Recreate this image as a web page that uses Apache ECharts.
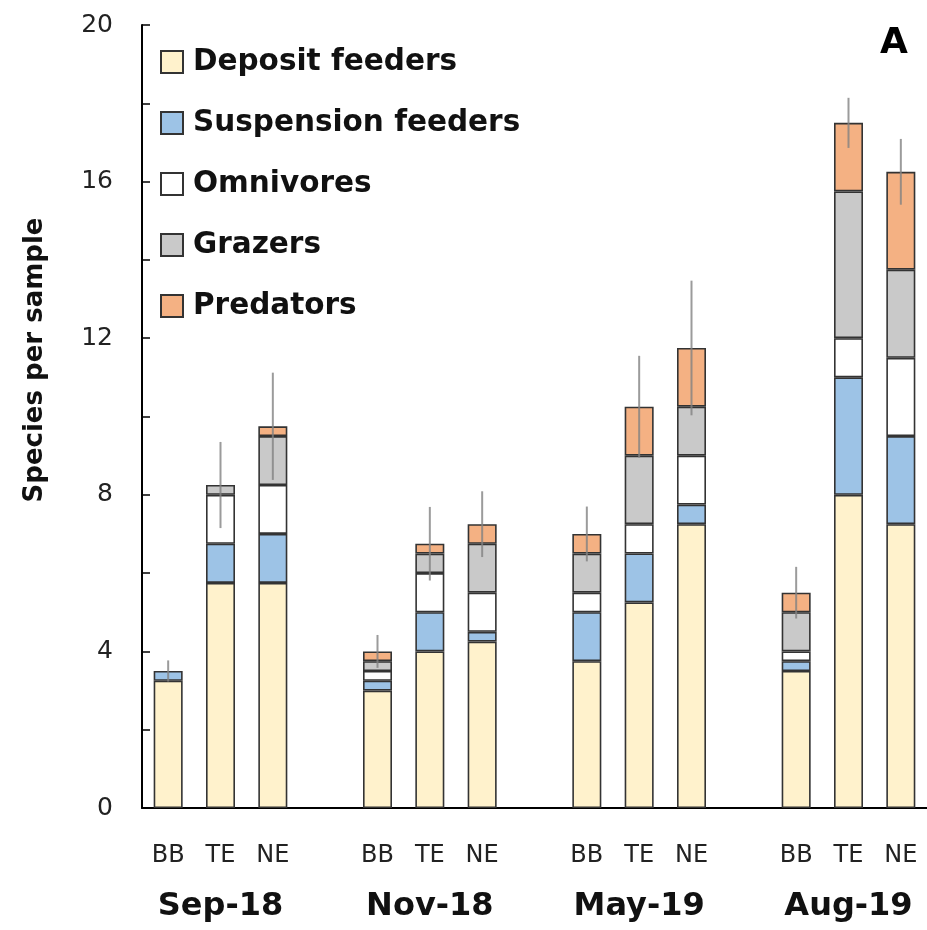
<!DOCTYPE html>
<html>
<head>
<meta charset="utf-8">
<script src="https://cdn.jsdelivr.net/npm/echarts@6/dist/echarts.min.js"></script>
<style>
  html, body { margin: 0; padding: 0; background: #fff; }
  #chart { width: 927px; height: 930px; }
</style>
</head>
<body>
<div id="chart"></div>
<script>
// Sampling dates and sites (sites repeat within each date group)
const months = ['Sep-18', 'Nov-18', 'May-19', 'Aug-19'];
const sites = ['BB', 'TE', 'NE'];

// Mean species per sample by feeding guild, order: Sep BB,TE,NE | Nov | May | Aug
const depositFeeders    = [3.25, 5.75, 5.75, 3.00, 4.00, 4.25, 3.75, 5.25, 7.25, 3.50, 8.00, 7.25];
const suspensionFeeders = [0.25, 1.00, 1.25, 0.25, 1.00, 0.25, 1.25, 1.25, 0.50, 0.25, 3.00, 2.25];
const omnivores         = [0.00, 1.25, 1.25, 0.25, 1.00, 1.00, 0.50, 0.75, 1.25, 0.25, 1.00, 2.00];
const grazers           = [0.00, 0.25, 1.25, 0.25, 0.50, 1.25, 1.00, 1.75, 1.25, 1.00, 3.75, 2.25];
const predators         = [0.00, 0.00, 0.25, 0.25, 0.25, 0.50, 0.50, 1.25, 1.50, 0.50, 1.75, 2.50];
// Standard error of total species per sample
const stdErr            = [0.27, 1.10, 1.37, 0.42, 0.94, 0.84, 0.70, 1.30, 1.72, 0.66, 0.64, 0.84];

// Category slots: three sites per date, one empty slot between dates
const slotIndex = [];
const categories = [];
const groupLabels = [];
months.forEach((m, gi) => {
  sites.forEach((s, si) => {
    slotIndex.push(categories.length);
    categories.push(s);
    groupLabels.push(si === 1 ? m : '');
  });
  if (gi < months.length - 1) { categories.push(' '); groupLabels.push(''); }
});

function toSlots(values) {
  const out = categories.map(() => '-');
  values.forEach((v, i) => { out[slotIndex[i]] = v === 0 ? '-' : v; });
  return out;
}

const guilds = [
  { name: 'Deposit feeders',    values: depositFeeders,    color: '#FFF2CC' },
  { name: 'Suspension feeders', values: suspensionFeeders, color: '#9DC3E6' },
  { name: 'Omnivores',          values: omnivores,         color: '#FFFFFF' },
  { name: 'Grazers',            values: grazers,           color: '#C9C9C9' },
  { name: 'Predators',          values: predators,         color: '#F4B183' }
];

const totals = depositFeeders.map((_, i) => guilds.reduce((s, g) => s + g.values[i], 0));
const errData = totals.map((t, i) => [slotIndex[i], t - stdErr[i], t + stdErr[i]]);

const FONT = '"DejaVu Sans", sans-serif';

const barSeries = guilds.map(g => ({
  name: g.name,
  type: 'bar',
  stack: 'total',
  xAxisIndex: 0,
  barWidth: 29,
  data: toSlots(g.values),
  itemStyle: { color: g.color, borderColor: '#333333', borderWidth: 1.6 },
  emphasis: { disabled: true }
}));

const errorSeries = {
  name: 'SE',
  type: 'custom',
  xAxisIndex: 0,
  z: 10,
  data: errData,
  encode: { x: 0, y: [1, 2] },
  renderItem: function (params, api) {
    const p1 = api.coord([api.value(0), api.value(1)]);
    const p2 = api.coord([api.value(0), api.value(2)]);
    return {
      type: 'line',
      shape: { x1: p1[0], y1: p1[1], x2: p2[0], y2: p2[1] },
      style: { stroke: 'rgba(130,130,130,0.8)', lineWidth: 2 }
    };
  }
};

const chart = echarts.init(document.getElementById('chart'), null, { renderer: 'canvas' });
chart.setOption({
  animation: false,
  backgroundColor: '#ffffff',
  textStyle: { fontFamily: FONT },
  title: {
    text: 'A',
    left: 880,
    top: 26,
    padding: 0,
    textStyle: { fontFamily: FONT, fontSize: 36, fontWeight: 'bold', color: '#000' }
  },
  graphic: [{
    type: 'text',
    x: 35,
    y: 360,
    rotation: Math.PI / 2,
    style: {
      text: 'Species per sample',
      fontFamily: FONT,
      fontSize: 26,
      fontWeight: 'bold',
      fill: '#111',
      align: 'center',
      verticalAlign: 'middle'
    }
  }],
  legend: {
    orient: 'vertical',
    left: 160,
    top: 47,
    padding: 0,
    itemWidth: 22,
    itemHeight: 22,
    itemGap: 31,
    icon: 'rect',
    data: guilds.map(g => g.name),
    textStyle: { fontFamily: FONT, fontSize: 29.5, fontWeight: 'bold', color: '#111', padding: [0, 0, 0, 5] }
  },
  grid: { left: 142, top: 25, width: 787, height: 783 },
  xAxis: [
    {
      type: 'category',
      data: categories,
      position: 'bottom',
      axisLine: { lineStyle: { color: '#000', width: 2 } },
      axisTick: { show: false },
      axisLabel: { interval: 0, fontFamily: FONT, fontSize: 24, color: '#222', margin: 36 }
    },
    {
      type: 'category',
      data: groupLabels,
      position: 'bottom',
      offset: 0,
      axisLine: { show: false },
      axisTick: { show: false },
      axisLabel: { interval: 0, fontFamily: FONT, fontSize: 32, fontWeight: 'bold', color: '#111', margin: 83 }
    }
  ],
  yAxis: {
    type: 'value',
    min: 0,
    max: 20,
    interval: 2,
    axisLine: { show: true, lineStyle: { color: '#000', width: 2 } },
    axisTick: { show: true, inside: true, length: 8, lineStyle: { color: '#000', width: 1.5 } },
    splitLine: { show: false },
    axisLabel: {
      fontFamily: FONT, fontSize: 25, color: '#222', margin: 29,
      formatter: v => (v % 4 === 0 ? String(v) : '')
    }
  },
  series: barSeries.concat([errorSeries])
});
</script>
</body>
</html>
